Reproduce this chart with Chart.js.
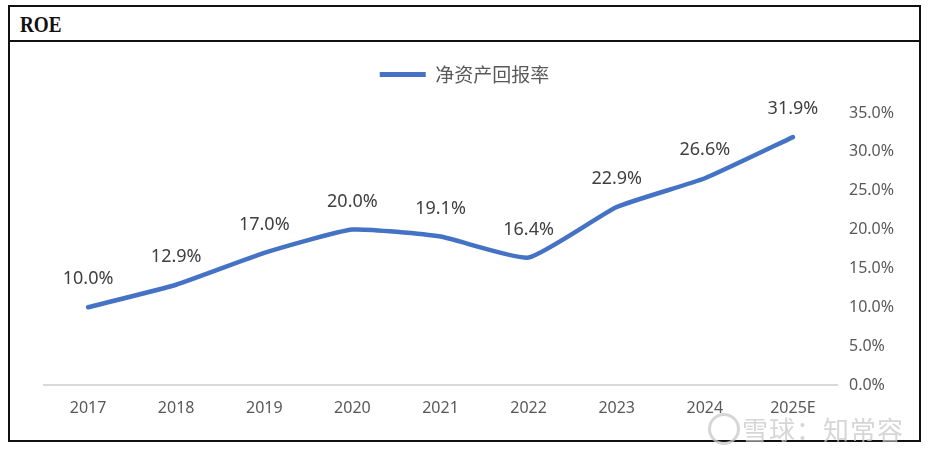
<!DOCTYPE html>
<html>
<head>
<meta charset="utf-8">
<script src="https://cdn.jsdelivr.net/npm/chart.js@4"></script>
<style>
  body { margin: 0; background: #fff; width: 931px; height: 454px; position: relative; overflow: hidden; }
  #frame { position: absolute; left: 8px; top: 5px; width: 909px; height: 433px; border: 2px solid #111; }
  #title { height: 33px; border-bottom: 2px solid #111; font-family: "Liberation Serif", serif; font-weight: bold;
           font-size: 24px; line-height: 34px; padding-left: 10px; color: #111; }
  #title span { display: inline-block; transform: scaleX(0.8); transform-origin: left; }
  #wrap { position: absolute; left: 0; top: 35px; width: 909px; height: 398px; }
  #mark { position: absolute; left: 742px; top: 410px; font-family: "Noto Sans CJK SC", sans-serif; font-size: 26px;
          color: rgba(200,200,200,0.75); letter-spacing: 1px; }
  #logo { position: absolute; left: 708px; top: 413px; width: 26px; height: 26px; border: 3px solid rgba(200,200,200,0.75);
          border-radius: 50%; }
</style>
</head>
<body>
<div id="frame">
  <div id="title"><span>ROE</span></div>
  <div id="wrap"><canvas id="roe-chart" width="909" height="398"></canvas></div>
</div>
<div id="logo"></div>
<div id="mark">雪球：知常容</div>
<script>
const years = ['2017', '2018', '2019', '2020', '2021', '2022', '2023', '2024', '2025E'];
const roe = [10.0, 12.9, 17.0, 20.0, 19.1, 16.4, 22.9, 26.6, 31.9];
const yTicks = [0, 5, 10, 15, 20, 25, 30, 35];
const seriesName = '净资产回报率';

const blue = '#4472C4';
const grey = '#595959';

// draws the value above each point
const pointLabels = {
  id: 'pointLabels',
  afterDatasetsDraw(chart) {
    const ctx = chart.ctx;
    const meta = chart.getDatasetMeta(0);
    ctx.save();
    ctx.font = '18px "Noto Sans", sans-serif';
    ctx.fillStyle = '#404040';
    ctx.textAlign = 'center';
    ctx.textBaseline = 'middle';
    meta.data.forEach((pt, i) => {
      ctx.fillText(roe[i].toFixed(1) + '%', pt.x, pt.y - 28);
    });
    ctx.restore();
  }
};

// extra room under the legend
const legendGap = {
  id: 'legendGap',
  beforeInit(chart) {
    const fit = chart.legend.fit;
    chart.legend.fit = function () {
      fit.bind(chart.legend)();
      this.height += 19;
    };
  }
};

const roeChart = new Chart(document.getElementById('roe-chart'), {
  type: 'line',
  data: {
    labels: years,
    datasets: [{
      label: seriesName,
      data: roe,
      borderColor: blue,
      backgroundColor: blue,
      borderWidth: 4.5,
      tension: 0.15,
      pointRadius: 0,
      borderCapStyle: 'round'
    }]
  },
  options: {
    responsive: false,
    animation: false,
    layout: { padding: { left: 17, right: 17, top: 0, bottom: 2 } },
    scales: {
      x: {
        offset: true,
        grid: { display: false, drawTicks: false },
        border: { color: '#d9d9d9', width: 2 },
        ticks: { color: grey, font: { size: 16, family: '"Noto Sans", sans-serif' }, padding: 14,
                 autoSkip: false, maxRotation: 0 },
        afterFit: (s) => { s.height = 53; }
      },
      y: {
        position: 'right',
        min: 0,
        max: 35,
        afterBuildTicks: (s) => { s.ticks = yTicks.map(v => ({ value: v })); },
        grid: { display: false, drawTicks: false },
        border: { display: false },
        ticks: {
          color: grey,
          font: { size: 16, family: '"Noto Sans", sans-serif' },
          padding: 12,
          callback: (v) => v.toFixed(1) + '%'
        },
        afterFit: (s) => { s.width = 65; }
      },
      // empty spacer on the left so the legend stays centred on the frame
      spacer: {
        position: 'left',
        grid: { display: false, drawTicks: false },
        border: { display: false },
        ticks: { display: false },
        afterFit: (s) => { s.width = 17; }
      }
    },
    plugins: {
      legend: {
        position: 'top',
        labels: {
          color: grey,
          font: { size: 19, family: '"Noto Sans CJK SC", sans-serif' },
          boxWidth: 46,
          boxHeight: 5,
          padding: 23,
          generateLabels: () => [{ text: seriesName, fillStyle: blue, strokeStyle: blue, lineWidth: 0, fontColor: grey }]
        }
      },
      tooltip: { enabled: false }
    }
  },
  plugins: [pointLabels, legendGap]
});
</script>
</body>
</html>
